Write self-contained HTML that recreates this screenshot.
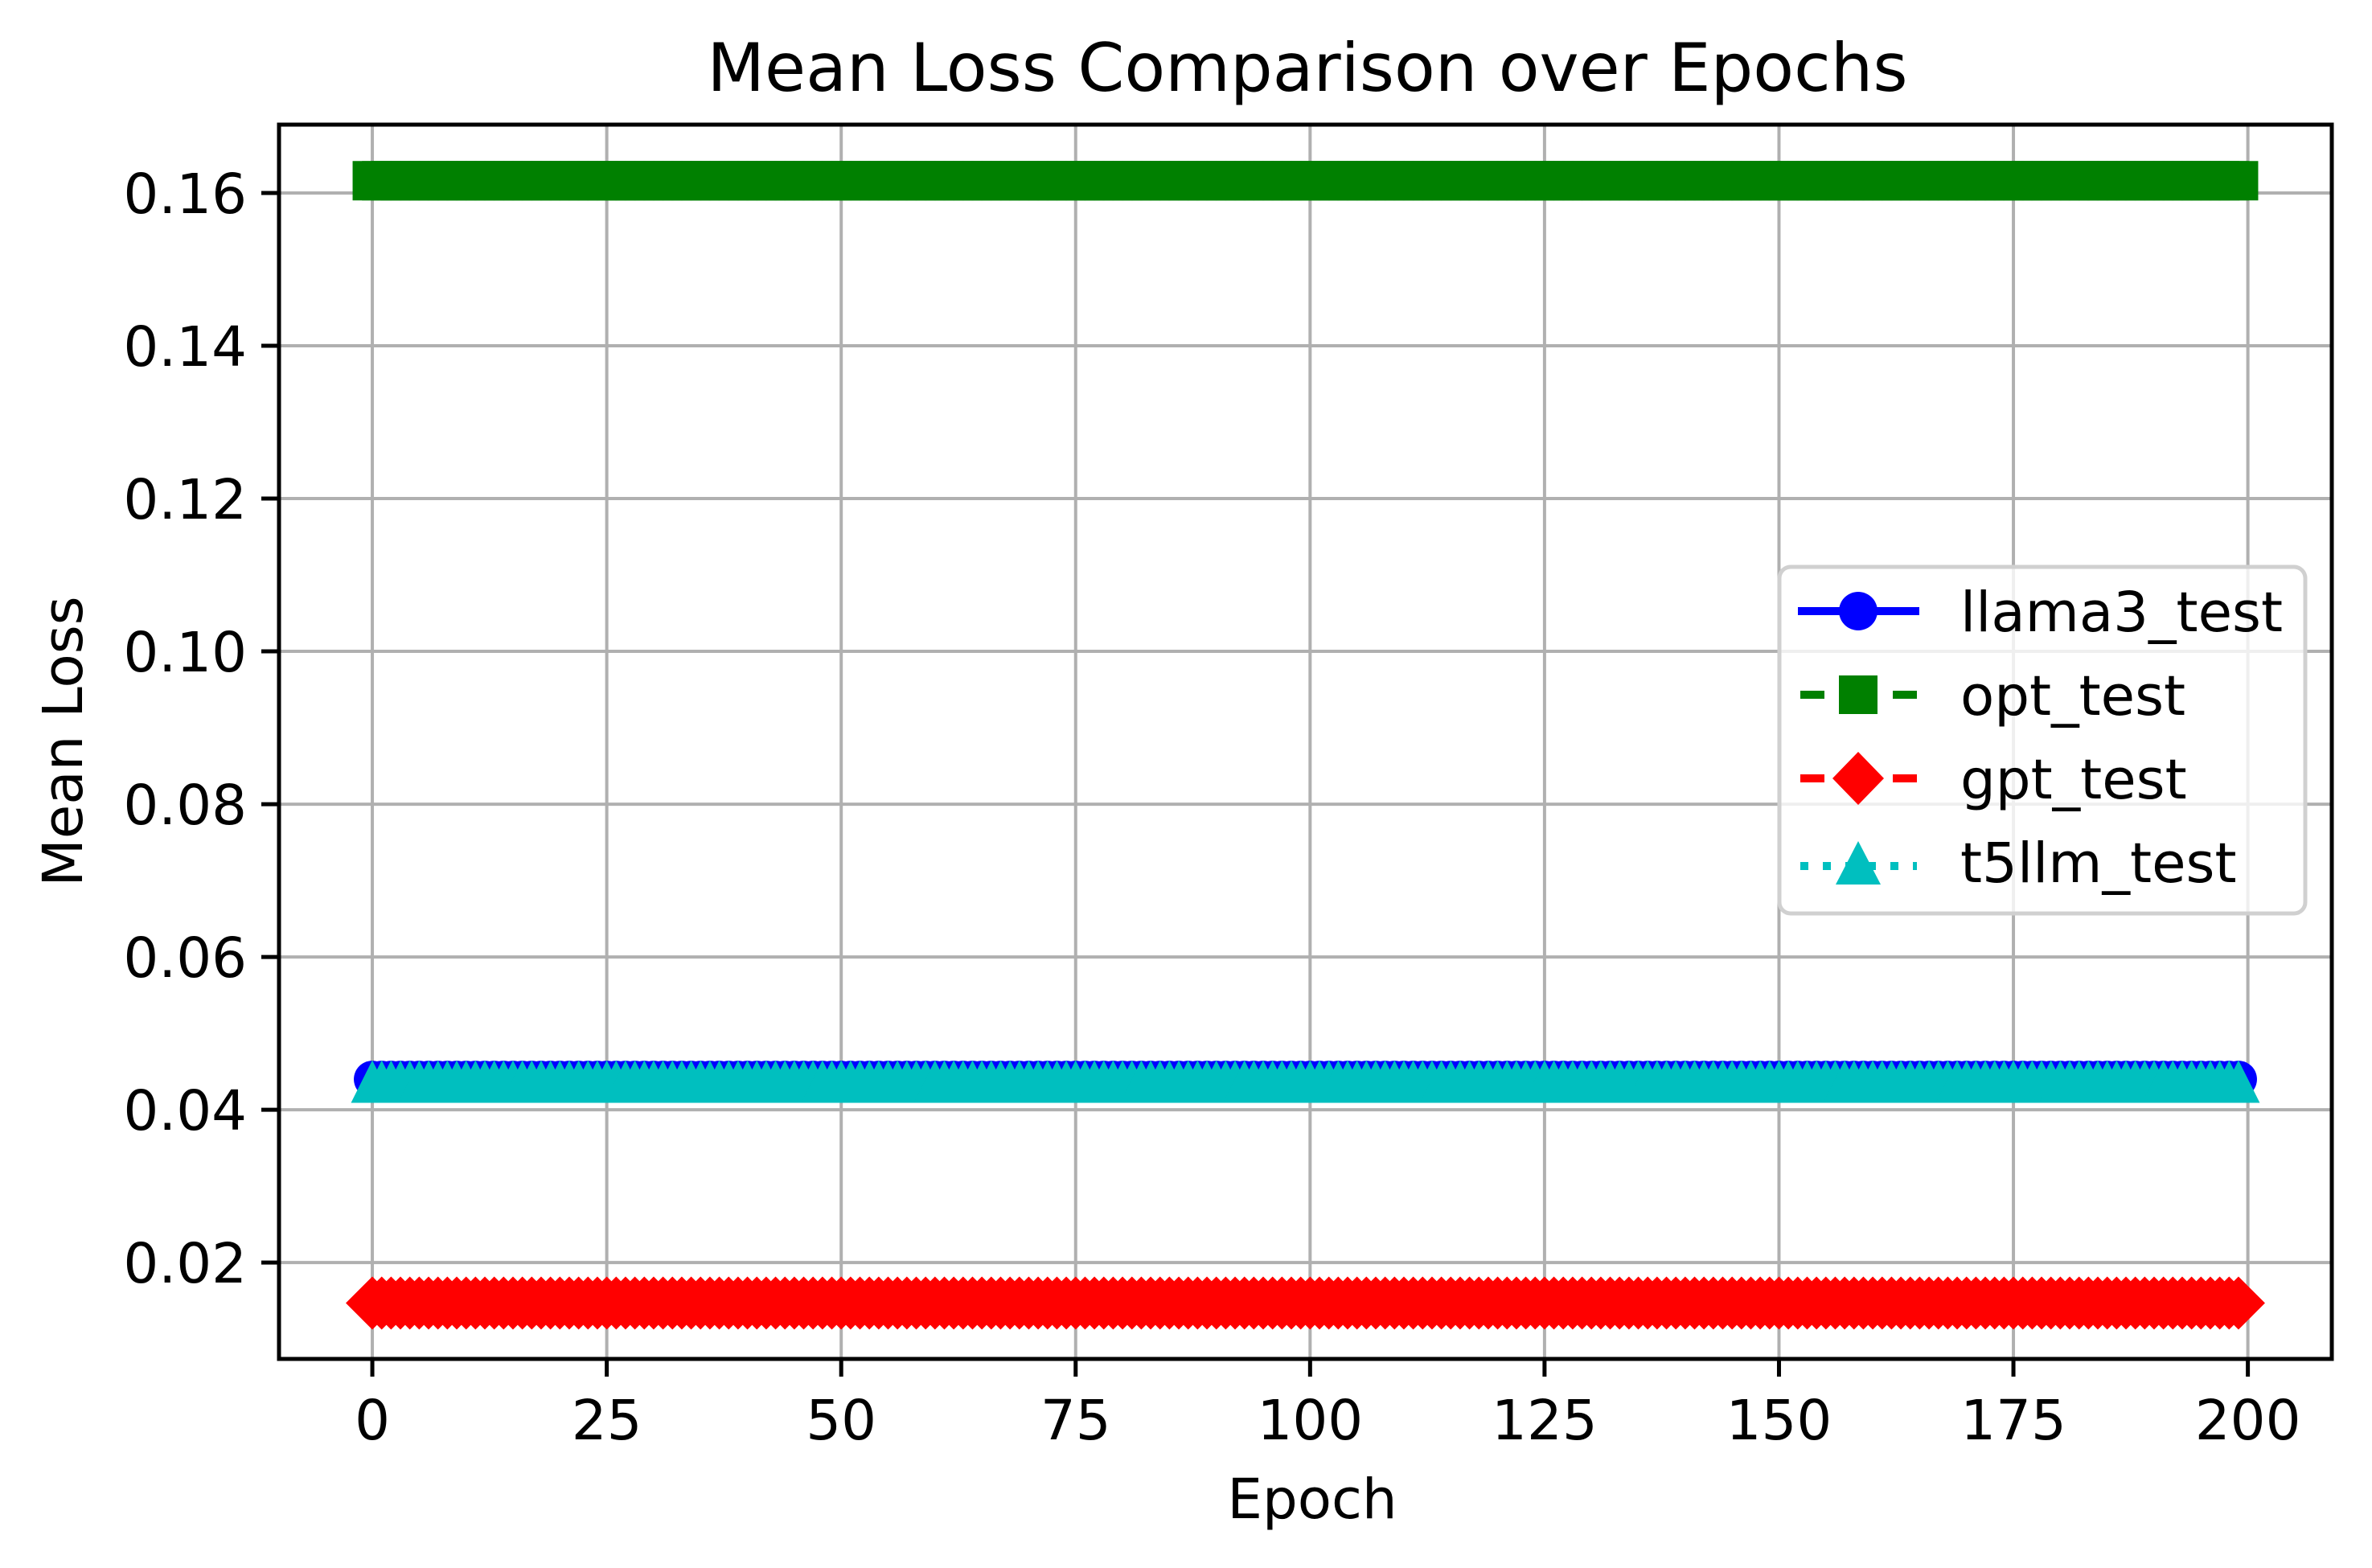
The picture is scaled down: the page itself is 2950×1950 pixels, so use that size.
<!DOCTYPE html>
<html><head><meta charset="utf-8"><style>
html,body{margin:0;padding:0;background:#fff}
svg{display:block}
text{font-family:"DejaVu Sans","Liberation Sans",sans-serif;fill:#000}
</style></head><body>
<svg id="chart" width="2950" height="1950" viewBox="0 0 2950 1950" xmlns="http://www.w3.org/2000/svg">
<rect x="0" y="0" width="2950" height="1950" fill="#fff"/>
<text x="1626" y="113" font-size="83" text-anchor="middle">Mean Loss Comparison over Epochs</text>
<g id="grid"></g>
<g id="series"></g>
<rect x="347" y="155" width="2553" height="1535" fill="none" stroke="#000" stroke-width="5"/>
<g id="ticks"></g>
<text x="1632" y="1888" font-size="69" text-anchor="middle">Epoch</text>
<text x="0" y="0" font-size="69" text-anchor="middle" transform="translate(102,922) rotate(-90)">Mean Loss</text>
<g id="legend" transform="translate(-11,-6)">
<rect x="2224" y="711" width="654" height="431" rx="14" fill="#fff" fill-opacity="0.8" stroke="#d0d0d0" stroke-width="5"/>
<g>
<line x1="2247" y1="766" x2="2398" y2="766" stroke="#0000ff" stroke-width="10"/>
<circle cx="2322" cy="766" r="24" fill="#0000ff"/>
<text x="2449" y="791" font-size="69">llama3_test</text></g>
<g>
<line x1="2250" y1="870" x2="2395" y2="870" stroke="#008000" stroke-width="10" stroke-dasharray="30,85"/>
<rect x="2298" y="846" width="48" height="48" fill="#008000"/>
<text x="2449" y="895" font-size="69">opt_test</text></g>
<g>
<line x1="2250" y1="974" x2="2395" y2="974" stroke="#ff0000" stroke-width="10" stroke-dasharray="30,85"/>
<polygon points="2322,941 2354,974 2322,1007 2290,974" fill="#ff0000"/>
<text x="2449" y="999" font-size="69">gpt_test</text></g>
<g>
<line x1="2250" y1="1083" x2="2395" y2="1083" stroke="#00bfbf" stroke-width="10" stroke-dasharray="10,18"/>
<polygon points="2322,1052 2350,1106 2294,1106" fill="#00bfbf"/>
<text x="2449" y="1103" font-size="69">t5llm_test</text></g>
</g>
</svg>
<script>
const epochs = Array.from({length:200},(_,i)=>i);
const llamaValue = 0.0440;
const optValue = 0.1616;
const gptValue = 0.0147;
const t5llmValue = 0.0437;
const llamaLoss = epochs.map(()=>llamaValue);
const optLoss = epochs.map(()=>optValue);
const gptLoss = epochs.map(()=>gptValue);
const t5llmLoss = epochs.map(()=>t5llmValue);
const xTicks = [0,25,50,75,100,125,150,175,200];
const yTicks = [0.02,0.04,0.06,0.08,0.10,0.12,0.14,0.16];
const yTickLabels = ["0.02","0.04","0.06","0.08","0.10","0.12","0.14","0.16"];

const NS="http://www.w3.org/2000/svg";
const L=347,R=2900,T=155,B=1690;
const xmin=-9.95,xmax=208.95,ymin=0.00739,ymax=0.16894;
function sx(v){return L+(v-xmin)/(xmax-xmin)*(R-L);}
function sy(v){return B-(v-ymin)/(ymax-ymin)*(B-T);}
function mk(tag,attrs,parent){const e=document.createElementNS(NS,tag);for(const k in attrs)e.setAttribute(k,attrs[k]);parent.appendChild(e);return e;}
const grid=document.getElementById('grid'),ticks=document.getElementById('ticks'),series=document.getElementById('series');
xTicks.forEach(t=>{
  const x=sx(t);
  const g=mk('line',{x1:x,y1:T,x2:x,y2:B,stroke:'#b0b0b0','stroke-width':4},grid);
  
  
  const tk=mk('line',{x1:x,y1:B,x2:x,y2:B+22,stroke:'#000','stroke-width':5},ticks);
  
  
  const tx=mk('text',{x:x,y:B+100,'font-size':69,'text-anchor':'middle'},ticks);
  tx.textContent=String(t);
  
  
});
yTicks.forEach((t,i)=>{
  const y=sy(t);
  const g=mk('line',{x1:L,y1:y,x2:R,y2:y,stroke:'#b0b0b0','stroke-width':4},grid);
  
  
  const tk=mk('line',{x1:L-22,y1:y,x2:L,y2:y,stroke:'#000','stroke-width':5},ticks);
  
  
  const tx=mk('text',{x:L-40,y:y+25,'font-size':69,'text-anchor':'end'},ticks);
  tx.textContent=yTickLabels[i];
  
  
});
function drawSeries(vals,color,dash,marker,name){
  const g=mk('g',{},series);
  
  
  const pts=epochs.map((e,i)=>sx(e)+','+sy(vals[i])).join(' ');
  mk('polyline',{points:pts,fill:'none',stroke:color,'stroke-width':10,'stroke-dasharray':dash},g);
  epochs.forEach((e,i)=>{
    const x=sx(e),y=sy(vals[i]);let m;
    if(marker==='o')m=mk('circle',{cx:x,cy:y,r:23,fill:color},g);
    else if(marker==='s')m=mk('rect',{x:x-24.5,y:y-24.5,width:49,height:49,fill:color},g);
    else if(marker==='D')m=mk('polygon',{points:`${x},${y-33} ${x+33},${y} ${x},${y+33} ${x-33},${y}`,fill:color},g);
    else m=mk('polygon',{points:`${x},${y-26.5} ${x+26.5},${y+26.5} ${x-26.5},${y+26.5}`,fill:color},g);
    
    
  });
}
drawSeries(llamaLoss,'#0000ff','none','o','llama3-series');
drawSeries(optLoss,'#008000','28,12','s','opt-series');
drawSeries(gptLoss,'#ff0000','28,12','D','gpt-series');
drawSeries(t5llmLoss,'#00bfbf','8,12','^','t5llm-series');
</script>
</body></html>
